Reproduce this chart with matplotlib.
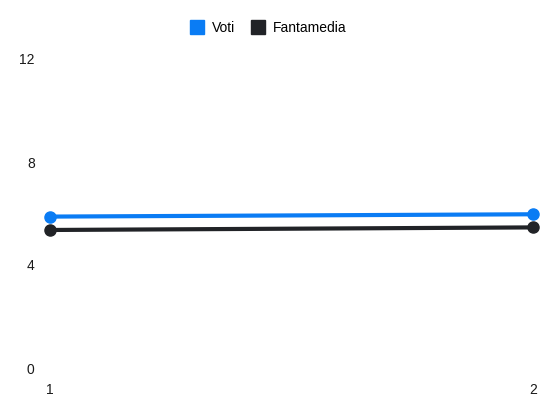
import matplotlib.pyplot as plt
from matplotlib.lines import Line2D

plt.rcParams['font.family'] = ['Liberation Sans', 'DejaVu Sans']

giornate = [1, 2]
voti = [5.88, 5.97]
fantamedia = [5.36, 5.46]
y_ticks = [0, 4, 8, 12]

col_voti = '#0a7cf4'
col_fm = '#212327'

fig = plt.figure(figsize=(5.5, 4.12), dpi=100)
ax = fig.add_axes([50 / 550, 1 - 368 / 412, 483 / 550, 309 / 412])

ax.plot(giornate, fantamedia, color=col_fm, lw=3, marker='o', ms=8,
        clip_on=False, solid_capstyle='round', zorder=3)
ax.plot(giornate, voti, color=col_voti, lw=3, marker='o', ms=8,
        clip_on=False, solid_capstyle='round', zorder=4)

ax.set_xlim(1, 2)
ax.set_ylim(0, 12)
ax.set_xticks(giornate)
ax.set_yticks(y_ticks)
ax.tick_params(axis='both', length=0, labelsize=10, colors='#1a1a1a')
ax.tick_params(axis='y', pad=11)
ax.tick_params(axis='x', pad=11)
for s in ax.spines.values():
    s.set_visible(False)

handles = [Line2D([], [], marker='s', ls='none', ms=10.5, color=col_voti),
           Line2D([], [], marker='s', ls='none', ms=10.5, color=col_fm)]
fig.legend(handles, ['Voti', 'Fantamedia'], loc='center',
           bbox_to_anchor=(268.5 / 550, 1 - 28 / 412), ncol=2, frameon=False,
           fontsize=10, handlelength=1.0, handletextpad=0.6, columnspacing=1.1)

fig.savefig('out.png', dpi=100)
